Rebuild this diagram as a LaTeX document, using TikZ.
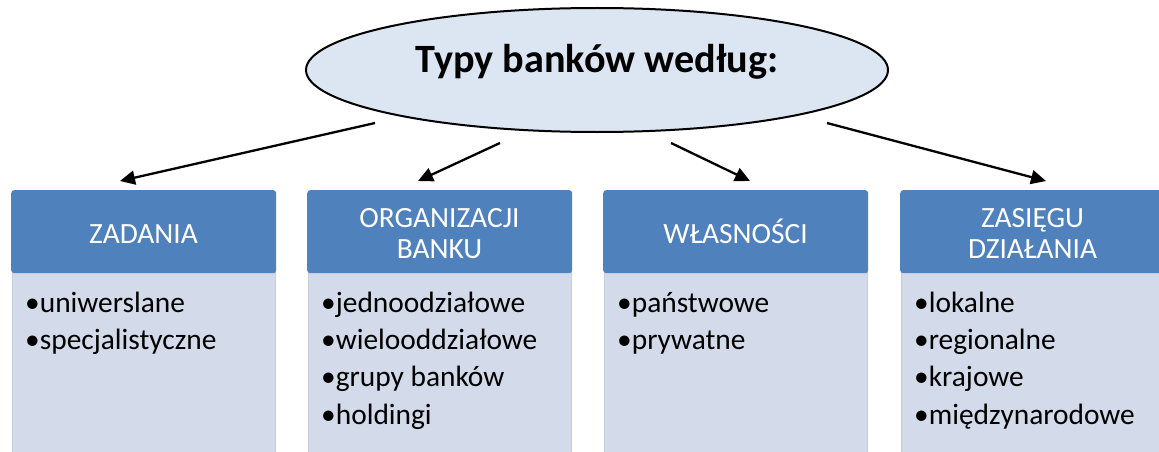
\documentclass[tikz,border=0pt]{standalone}
\usepackage{fontspec}
\setmainfont{Carlito}
\usetikzlibrary{shapes.geometric,arrows.meta}
\definecolor{headblue}{HTML}{4F81BD}
\definecolor{bodyblue}{HTML}{D3DAE9}
\definecolor{bodyedge}{HTML}{C3CDE2}
\definecolor{ovalfill}{HTML}{DCE6F2}
\begin{document}
\begin{tikzpicture}[x=1pt,y=-1pt,
  oval/.style={ellipse, draw=black, line width=2pt, fill=ovalfill,
    minimum width=582pt, minimum height=124pt, inner sep=0pt},
  headbox/.style={rectangle, fill=headblue, rounded corners=3pt,
    minimum width=265pt, minimum height=83pt, inner sep=0pt, anchor=north west},
  bodybox/.style={rectangle, fill=bodyblue, draw=bodyedge, line width=1pt,
    minimum width=263pt, minimum height=220pt, inner sep=0pt, anchor=north west},
  headtext/.style={text=white, font=\fontsize{29.4}{31}\selectfont, inner sep=0pt, anchor=base},
  item/.style={font=\fontsize{29.4}{34}\selectfont, inner sep=0pt, anchor=base west},
  titletext/.style={font=\fontsize{40.2}{46}\selectfont\bfseries, inner sep=0pt, anchor=base},
  arr/.style={line width=2.3pt, -{Triangle[length=15pt,width=14pt]}}
]
\useasboundingbox (0,0) rectangle (1159,452);
\clip (0,0) rectangle (1159,452);

% central oval with the title
\node[oval] (oval) at (597,70) {};
\node[titletext] (title) at (597,73) {Typy banków według:};

% four category columns: body panels first, headers on top
\foreach \n/\x in {1/11, 2/307, 3/603, 4/900} {
  \node[bodybox] (b\n) at (\x+1,272) {};
  \node[headbox] (h\n) at (\x,190) {};
}

% header captions
\node[headtext] (h1t)  at (143.5,243) {ZADANIA};
\node[headtext] (h2ta) at (439.5,227) {ORGANIZACJI};
\node[headtext] (h2tb) at (439.5,258) {BANKU};
\node[headtext] (h3t)  at (735.5,243) {WŁASNOŚCI};
\node[headtext] (h4ta) at (1032.5,227) {ZASIĘGU};
\node[headtext] (h4tb) at (1032.5,258) {DZIAŁANIA};

% bullet lists
\node[item] (i11) at (25,312)   {•uniwerslane};
\node[item] (i12) at (25,349.5) {•specjalistyczne};

\node[item] (i21) at (321,312)   {•jednoodziałowe};
\node[item] (i22) at (321,349.5) {•wielooddziałowe};
\node[item] (i23) at (321,386.8) {•grupy banków};
\node[item] (i24) at (321,424)   {•holdingi};

\node[item] (i31) at (617,312)   {•państwowe};
\node[item] (i32) at (617,349.5) {•prywatne};

\node[item] (i41) at (914,312)   {•lokalne};
\node[item] (i42) at (914,349.5) {•regionalne};
\node[item] (i43) at (914,386.8) {•krajowe};
\node[item] (i44) at (914,424)   {•międzynarodowe};

% arrow end points, just off the oval and above the headers
\coordinate (s1) at (375,123);  \coordinate (t1) at (120,181);
\coordinate (s2) at (500,143);  \coordinate (t2) at (418,181);
\coordinate (s3) at (671,143);  \coordinate (t3) at (750,181);
\coordinate (s4) at (827,123);  \coordinate (t4) at (1046,181);

\draw[arr] (s1) -- (t1);
\draw[arr] (s2) -- (t2);
\draw[arr] (s3) -- (t3);
\draw[arr] (s4) -- (t4);
\end{tikzpicture}
\end{document}
